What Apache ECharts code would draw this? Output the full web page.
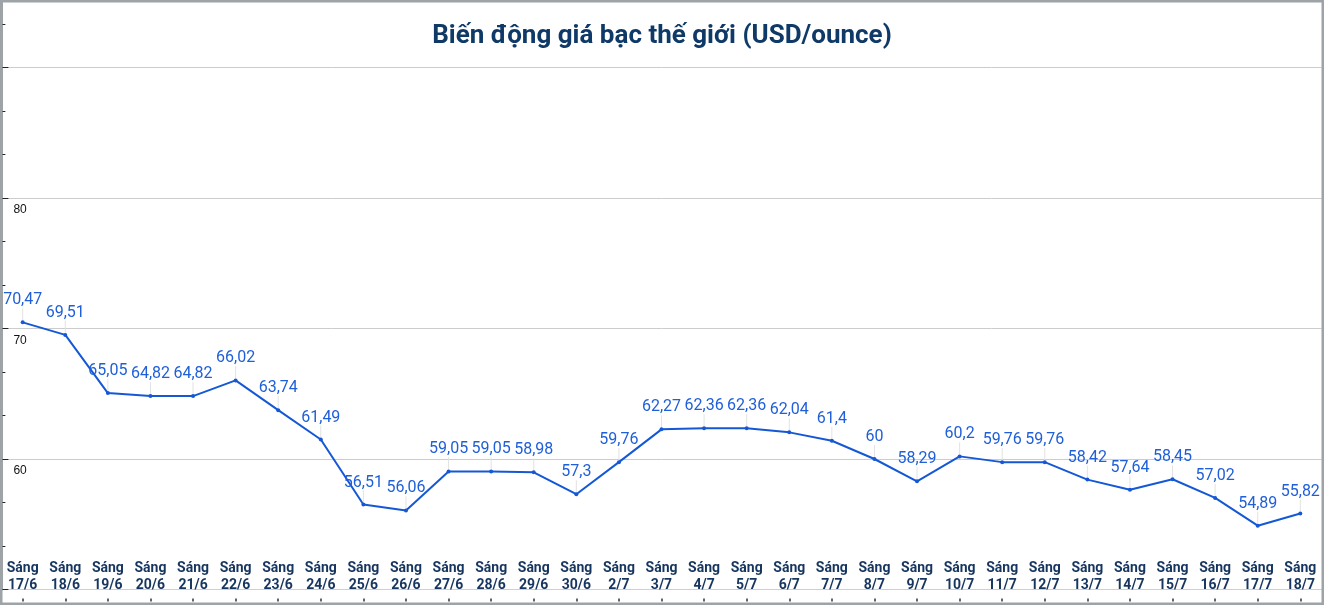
<!DOCTYPE html>
<html>
<head>
<meta charset="utf-8">
<script src="https://cdn.jsdelivr.net/npm/echarts@6/dist/echarts.min.js"></script>
<style>
html,body{margin:0;padding:0;background:#fff;}
#chart{width:1324px;height:605px;}
</style>
</head>
<body>
<div id="chart"></div>
<script>
const titleText = 'Biến động giá bạc thế giới (USD/ounce)';
const categories = ['Sáng\n17/6','Sáng\n18/6','Sáng\n19/6','Sáng\n20/6','Sáng\n21/6','Sáng\n22/6','Sáng\n23/6','Sáng\n24/6','Sáng\n25/6','Sáng\n26/6','Sáng\n27/6','Sáng\n28/6','Sáng\n29/6','Sáng\n30/6','Sáng\n2/7','Sáng\n3/7','Sáng\n4/7','Sáng\n5/7','Sáng\n6/7','Sáng\n7/7','Sáng\n8/7','Sáng\n9/7','Sáng\n10/7','Sáng\n11/7','Sáng\n12/7','Sáng\n13/7','Sáng\n14/7','Sáng\n15/7','Sáng\n16/7','Sáng\n17/7','Sáng\n18/7'];
const prices = [70.47,69.51,65.05,64.82,64.82,66.02,63.74,61.49,56.51,56.06,59.05,59.05,58.98,57.3,59.76,62.27,62.36,62.36,62.04,61.4,60,58.29,60.2,59.76,59.76,58.42,57.64,58.45,57.02,54.89,55.82];
const yTickLabels = [60,70,80];
const yMin = 50;
const yMax = 95.17;

const chart = echarts.init(document.getElementById('chart'), null, {renderer:'canvas'});
chart.setOption({
  animation:false,
  backgroundColor:'#ffffff',
  title:{
    text:titleText,
    left:'center',
    top:18,
    textStyle:{fontFamily:'Roboto',fontWeight:'bold',fontSize:26,color:'#0f3a68'}
  },
  grid:{left:1.4,right:2.4,top:0,bottom:15.5,containLabel:false},
  xAxis:[{
    type:'category',
    data:categories,
    boundaryGap:true,
    axisLine:{show:true,lineStyle:{color:'#cfcfcf',width:1}},
    axisTick:{show:false},
    axisLabel:{
      inside:true,
      margin:-4,
      interval:0,
      fontFamily:'Roboto',
      fontWeight:'bold',
      fontSize:14,
      lineHeight:17,
      color:'#16355f'
    },
    splitLine:{show:false}
  },{
    type:'category',
    data:categories,
    position:'bottom',
    offset:9,
    boundaryGap:true,
    axisLine:{show:false},
    axisTick:{show:true,alignWithLabel:true,length:3,lineStyle:{color:'#333',width:1.5}},
    axisLabel:{show:false},
    splitLine:{show:false}
  }],
  yAxis:[{
    type:'value',
    min:yMin,
    max:yMax,
    interval:10,
    axisLine:{show:true,lineStyle:{color:'#9ea3a8',width:3}},
    axisTick:{show:true,inside:true,length:7,lineStyle:{color:'#222',width:1}},
    axisLabel:{
      inside:true,
      margin:12,
      verticalAlign:'top',
      padding:[6,0,0,0],
      fontFamily:'Liberation Sans',
      fontSize:12,
      color:'#111',
      formatter:function(v){return yTickLabels.indexOf(v)>=0?String(v):'';}
    },
    splitLine:{show:true,lineStyle:{color:'#cccccc',width:1}}
  },{
    type:'value',
    min:yMin,
    max:yMax,
    interval:10/3,
    position:'left',
    axisLine:{show:false},
    axisTick:{show:true,inside:true,length:4,lineStyle:{color:'#222',width:1}},
    axisLabel:{show:false},
    splitLine:{show:false}
  }],
  series:[{
    type:'line',
    data:prices,
    xAxisIndex:0,
    yAxisIndex:0,
    symbol:'circle',
    symbolSize:4,
    lineStyle:{color:'#1558d6',width:2},
    itemStyle:{color:'#1558d6'},
    label:{
      show:true,
      position:'top',
      distance:4,
      fontFamily:'Roboto',
      fontSize:16,
      color:'#1f5fd8',
      formatter:function(p){return String(p.value).replace('.',',');}
    },
    labelLayout:{dy:-8},
    labelLine:{show:true,lineStyle:{color:'#e2e2e2',width:1}}
  }],
  graphic:[{
    type:'rect',
    z:100,
    silent:true,
    shape:{x:1,y:1,width:1322,height:603},
    style:{fill:'none',stroke:'#9ea3a8',lineWidth:3}
  }]
});
</script>
</body>
</html>
